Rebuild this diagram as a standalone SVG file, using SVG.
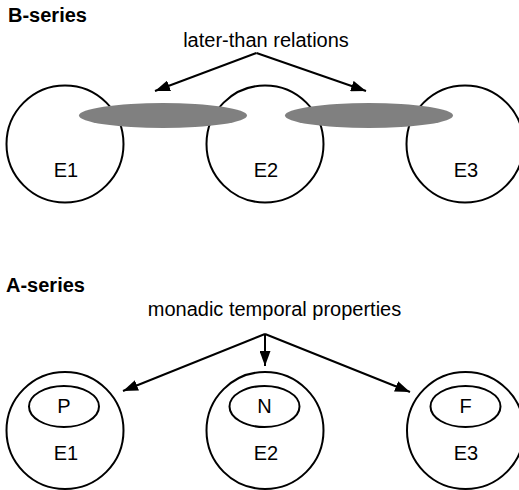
<svg xmlns="http://www.w3.org/2000/svg" width="519" height="490" viewBox="0 0 519 490">
<style>
text{font-family:"Liberation Sans",Arial,sans-serif;fill:#000}
.title{font-size:20px;font-weight:bold}
.lbl{font-size:20px;text-anchor:middle}
.ev{fill:#fff;stroke:#000;stroke-width:2}
.rel{fill:#808080;stroke:none}
.prop{fill:#fff;stroke:#000;stroke-width:2}
.conn{fill:none;stroke:#000;stroke-width:2}
</style>
<defs>
<marker id="ah" markerUnits="userSpaceOnUse" markerWidth="16" markerHeight="11" viewBox="0 0 16 11" refX="15" refY="5.5" orient="auto">
<path d="M0,0 L15,5.5 L0,11 z" fill="#000"/>
</marker>
</defs>
<text class="title" x="8" y="22">B-series</text>
<text class="lbl" x="266" y="47">later-than relations</text>
<g id="b-e1"><circle class="ev" cx="65" cy="144" r="58.5"/><text class="lbl" x="66" y="177">E1</text></g>
<g id="b-e2"><circle class="ev" cx="265" cy="144" r="58.5"/><text class="lbl" x="266" y="177">E2</text></g>
<g id="b-e3"><circle class="ev" cx="465" cy="144" r="58.5"/><text class="lbl" x="466" y="177">E3</text></g>
<g id="b-r12"><ellipse class="rel" cx="163" cy="115.5" rx="84" ry="12.5"/></g>
<g id="b-r23"><ellipse class="rel" cx="369" cy="115.5" rx="84" ry="12.5"/></g>
<text class="title" x="6" y="292">A-series</text>
<text class="lbl" x="274.5" y="316">monadic temporal properties</text>
<g id="a-e1"><circle class="ev" cx="65" cy="430.5" r="58.5"/><ellipse class="prop" cx="64" cy="406.5" rx="35" ry="20.5"/><text class="lbl" x="64" y="413">P</text><text class="lbl" x="66" y="460">E1</text></g>
<g id="a-e2"><circle class="ev" cx="265" cy="430.5" r="58.5"/><ellipse class="prop" cx="264.5" cy="406.5" rx="35" ry="20.5"/><text class="lbl" x="264.5" y="413">N</text><text class="lbl" x="266" y="460">E2</text></g>
<g id="a-e3"><circle class="ev" cx="465.5" cy="430.5" r="58.5"/><ellipse class="prop" cx="465.5" cy="406.5" rx="35" ry="20.5"/><text class="lbl" x="465.5" y="413">F</text><text class="lbl" x="466" y="460">E3</text></g>
<g id="connectors">
<line class="conn" x1="256.5" y1="53" x2="155" y2="91" marker-end="url(#ah)"/>
<line class="conn" x1="256.5" y1="53" x2="366" y2="91" marker-end="url(#ah)"/>
<line class="conn" x1="265" y1="334" x2="123" y2="391" marker-end="url(#ah)"/>
<line class="conn" x1="265" y1="334" x2="265" y2="366" marker-end="url(#ah)"/>
<line class="conn" x1="265" y1="334" x2="410" y2="392" marker-end="url(#ah)"/>
</g>
</svg>
